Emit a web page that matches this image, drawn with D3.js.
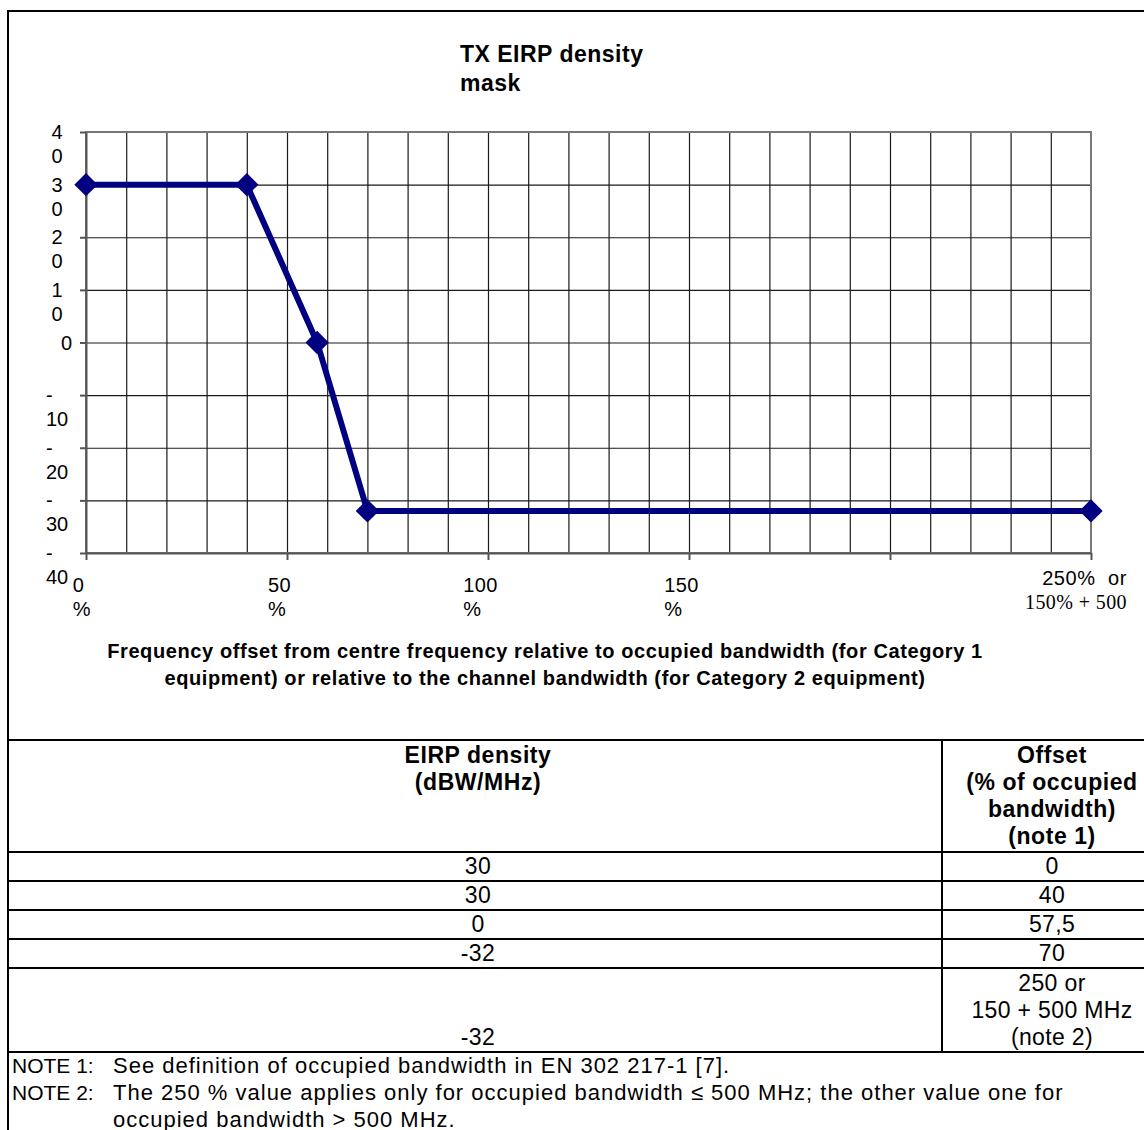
<!DOCTYPE html>
<html>
<head>
<meta charset="utf-8">
<title>TX EIRP density mask</title>
<script src="https://cdn.jsdelivr.net/npm/d3@7"></script>
<style>
    body { margin: 0; background: #fff; }
    #mask-area { width: 1144px; height: 1130px; overflow: hidden; }
    text { font-family: "Liberation Sans", Arial, sans-serif; fill: #000; white-space: pre; }
    .grid line { stroke: #1a1a1a; stroke-width: 1.2; }
    .grid path { display: none; }
    .axis path, .axis line { stroke: #555; stroke-width: 2; }
    .frame { stroke: #000; stroke-width: 2; }
</style>
</head>
<body>
<div id="mask-area"></div>
<script>

// Mask break points (also the table rows)
var offsets = [0, 40, 57.5, 70, 250];
var eirpDensity = [30, 30, 0, -32, -32];

// Axis ticks and labels
var yTicks = [40, 30, 20, 10, 0, -10, -20, -30, -40];
var xTickMarks = [0, 50, 100, 150, 200, 250];
var xTicks = [0, 50, 100, 150, 250];
var xTickLabels = [["0", "%"], ["50", "%"], ["100", "%"], ["150", "%"], ["250%  or", "150% + 500"]];

// Texts
var titleLines = ["TX EIRP density", "mask"];
var xTitleLines = [
    "Frequency offset from centre frequency relative to occupied bandwidth (for Category 1",
    "equipment) or relative to the channel bandwidth (for Category 2 equipment)"
];
var densityHeader = ["EIRP density", "(dBW/MHz)"];
var offsetHeader = ["Offset", "(% of occupied", "bandwidth)", "(note 1)"];
var offsetLabels = [["0"], ["40"], ["57,5"], ["70"], ["250 or", "150 + 500 MHz", "(note 2)"]];
var noteLabels = ["NOTE 1:", "NOTE 2:"];
var noteTexts = [
    ["See definition of occupied bandwidth in EN 302 217-1 [7]."],
    ["The 250 % value applies only for occupied bandwidth \u2264 500 MHz; the other value one for",
     "occupied bandwidth > 500 MHz."]
];


/*
 * MaskChart - Object constructor function
 * @param _parentElement  -- the HTML element in which to draw the chart
 */

MaskChart = function(_parentElement){
    this.parentElement = _parentElement;
    this.data = offsets.map(function(d, i){
        return {offset: d, density: eirpDensity[i]};
    });
    this.initVis();
}


/*
 * Initialize the frame, scales and axes
 */

MaskChart.prototype.initVis = function(){
    var vis = this;

    vis.margin = { top: 132, left: 86 };
    vis.width = 1005;
    vis.height = 421;
    vis.lineH = 27;

    vis.svg = d3.select("#" + vis.parentElement).append("svg")
        .attr("width", 1144)
        .attr("height", 1130);

    vis.svg.append("rect")
        .attr("width", 1144).attr("height", 1130)
        .attr("fill", "#fff");

    // outer box of the figure cell
    vis.svg.append("line").attr("class", "frame")
        .attr("x1", 7).attr("x2", 1160).attr("y1", 11).attr("y2", 11);
    vis.svg.append("line").attr("class", "frame")
        .attr("x1", 8).attr("x2", 8).attr("y1", 10).attr("y2", 1140);

    // Title
    vis.svg.append("text")
        .attr("x", 460).attr("y", 62)
        .attr("font-size", 23).attr("font-weight", "bold")
        .attr("letter-spacing", 0.5)
        .selectAll("tspan").data(titleLines).enter().append("tspan")
        .attr("x", 460)
        .attr("dy", function(d, i){ return i == 0 ? 0 : 29; })
        .text(function(d){ return d; });

    vis.g = vis.svg.append("g")
        .attr("transform", "translate(" + vis.margin.left + "," + vis.margin.top + ")");

    // Scales
    vis.x = d3.scaleLinear()
        .domain([0, 250])
        .range([0, vis.width]);

    vis.y = d3.scaleLinear()
        .domain([-40, 40])
        .range([vis.height, 0]);

    // Grid
    vis.g.append("g")
        .attr("class", "grid")
        .attr("transform", "translate(0," + vis.height + ")")
        .call(d3.axisBottom(vis.x).tickValues(d3.range(10, 250, 10)).tickSize(-vis.height).tickFormat(""));

    vis.g.append("g")
        .attr("class", "grid")
        .call(d3.axisLeft(vis.y).tickValues(d3.range(-30, 40, 10)).tickSize(-vis.width).tickFormat(""));

    // plot border
    vis.g.append("rect")
        .attr("width", vis.width).attr("height", vis.height)
        .attr("fill", "none").attr("stroke", "#777").attr("stroke-width", 2);

    // Axes
    vis.xAxis = d3.axisBottom(vis.x).tickValues(xTickMarks).tickSize(7).tickSizeOuter(0).tickFormat("");
    vis.yAxis = d3.axisLeft(vis.y).tickValues(yTicks).tickSize(6).tickSizeOuter(0).tickFormat("");

    vis.g.append("g")
        .attr("class", "x-axis axis")
        .attr("transform", "translate(0," + vis.height + ")")
        .call(vis.xAxis);

    vis.g.append("g")
        .attr("class", "y-axis axis")
        .call(vis.yAxis);

    vis.drawLabels();
    vis.updateVis();
    vis.drawTable();
}


/*
 * Tick labels and axis title (wrapped the way the narrow cells wrap them)
 */

MaskChart.prototype.drawLabels = function(){
    var vis = this;

    yTicks.forEach(function(v){
        var ty = vis.margin.top + vis.y(v);
        if (v == 0) {
            vis.svg.append("text")
                .attr("x", 72).attr("y", ty + 7)
                .attr("font-size", 20).attr("text-anchor", "end")
                .text(String(v));
            return;
        }
        var lines = v < 0 ? ["-", String(-v)] : String(v).split("");
        var num = vis.svg.append("text")
            .attr("x", 57).attr("y", ty + 31)
            .attr("font-size", 20).attr("text-anchor", "middle")
            .text(lines[1]);
        var w = num.node().getComputedTextLength();
        vis.svg.append("text")
            .attr("x", v < 0 ? 57 - w / 2 : 57)
            .attr("y", ty + 7)
            .attr("font-size", 20)
            .attr("text-anchor", v < 0 ? "start" : "middle")
            .text(lines[0]);
    });

    xTicks.forEach(function(v, i){
        var tx = vis.margin.left + vis.x(v);
        var lab = xTickLabels[i];
        if (i == xTicks.length - 1) {
            // last label sits right-aligned under the end of the axis
            vis.svg.append("text")
                .attr("x", tx + 36).attr("y", 585)
                .attr("font-size", 20).attr("text-anchor", "end")
                .attr("letter-spacing", 0.6)
                .text(lab[0]);
            vis.svg.append("text")
                .attr("x", tx + 36).attr("y", 609)
                .attr("font-size", 20).attr("text-anchor", "end")
                .attr("letter-spacing", 0.4)
                .style("font-family", "'Liberation Serif', 'Times New Roman', serif")
                .text(lab[1]);
            return;
        }
        var first = vis.svg.append("text")
            .attr("x", tx - 7.5).attr("y", 592)
            .attr("font-size", 20).attr("text-anchor", "middle")
            .attr("letter-spacing", 0.4)
            .text(lab[0]);
        var w = first.node().getComputedTextLength();
        vis.svg.append("text")
            .attr("x", tx - 7.5 - w / 2).attr("y", 616)
            .attr("font-size", 20)
            .text(lab[1]);
    });

    vis.svg.append("text")
        .attr("y", 658)
        .attr("font-size", 20).attr("font-weight", "bold").attr("text-anchor", "middle")
        .attr("letter-spacing", 0.6)
        .selectAll("tspan").data(xTitleLines).enter().append("tspan")
        .attr("x", 545)
        .attr("dy", function(d, i){ return i == 0 ? 0 : vis.lineH; })
        .text(function(d){ return d; });
}


/*
 * The drawing function (mask line + markers)
 */

MaskChart.prototype.updateVis = function(){
    var vis = this;

    var line = d3.line()
        .x(function(d){ return vis.x(d.offset); })
        .y(function(d){ return vis.y(d.density); });

    vis.g.append("path")
        .datum(vis.data)
        .attr("d", line)
        .attr("fill", "none")
        .attr("stroke", "#000080")
        .attr("stroke-width", 6)
        .attr("stroke-linejoin", "round");

    var diamond = d3.symbol().type(d3.symbolSquare).size(16.5 * 16.5);

    vis.g.selectAll(".marker")
        .data(vis.data)
        .enter().append("path")
        .attr("class", "marker")
        .attr("d", diamond)
        .attr("fill", "#000080")
        .attr("transform", function(d){
            return "translate(" + vis.x(d.offset) + "," + vis.y(d.density) + ") rotate(45)";
        });
}


/*
 * Table of break points and the notes under it
 */

MaskChart.prototype.drawTable = function(){
    var vis = this;

    var top = 740;
    var rowHeights = [112, 29, 29, 29, 29, 84];
    var colDiv = 942;
    var leftCx = 478, rightCx = 1052;

    var rowTops = [top];
    rowHeights.forEach(function(h, i){ rowTops.push(rowTops[i] + h); });

    rowTops.forEach(function(y){
        vis.svg.append("line").attr("class", "frame")
            .attr("x1", 7).attr("x2", 1160).attr("y1", y).attr("y2", y);
    });
    vis.svg.append("line").attr("class", "frame")
        .attr("x1", colDiv).attr("x2", colDiv)
        .attr("y1", top).attr("y2", rowTops[rowTops.length - 1]);

    // one cell's text block, centred
    function block(lines, cx, y0, bold){
        vis.svg.append("text")
            .attr("y", y0)
            .attr("font-size", 23)
            .attr("font-weight", bold ? "bold" : "normal")
            .attr("text-anchor", "middle")
            .attr("letter-spacing", bold ? 0.55 : 0.35)
            .selectAll("tspan").data(lines).enter().append("tspan")
            .attr("x", cx)
            .attr("dy", function(d, i){ return i == 0 ? 0 : vis.lineH; })
            .text(function(d){ return d; });
    }
    // header cells: top aligned
    block(densityHeader, leftCx, top + 23, true);
    block(offsetHeader, rightCx, top + 23, true);

    // body cells: bottom aligned
    eirpDensity.forEach(function(v, i){
        var bottom = rowTops[i + 2];
        block([String(v)], leftCx, bottom - 7, false);
        var lines = offsetLabels[i];
        block(lines, rightCx, bottom - 7 - (lines.length - 1) * vis.lineH, false);
    });

    // notes
    var ny = rowTops[rowTops.length - 1] + 21;
    noteLabels.forEach(function(lab, i){
        vis.svg.append("text")
            .attr("x", 12).attr("y", ny)
            .attr("font-size", 21)
            .text(lab);
        noteTexts[i].forEach(function(t){
            vis.svg.append("text")
                .attr("x", 113).attr("y", ny)
                .attr("font-size", 22)
                .attr("letter-spacing", 1.0)
                .text(t);
            ny += vis.lineH;
        });
    });
}

var maskChart = new MaskChart("mask-area");

</script>
</body>
</html>
